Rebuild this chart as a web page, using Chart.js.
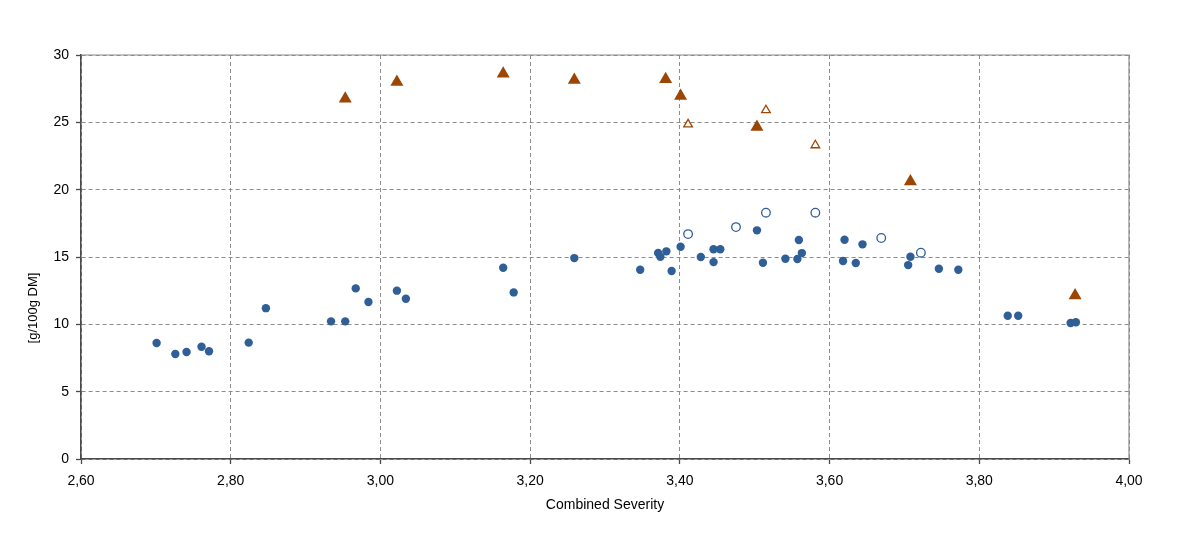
<!DOCTYPE html>
<html>
<head>
<meta charset="utf-8">
<script src="https://cdn.jsdelivr.net/npm/chart.js@4/dist/chart.umd.min.js"></script>
<style>
    html, body { margin: 0; padding: 0; background: #fff; }
    #chart { display: block; }
</style>
</head>
<body>
<canvas id="chart" width="1200" height="555"></canvas>
<script>
// ===================== DATA =====================
const xTicks = [2.6, 2.8, 3.0, 3.2, 3.4, 3.6, 3.8, 4.0];
const yTicks = [0, 5, 10, 15, 20, 25, 30];

// filled circles
const dotX = [2.701, 2.726, 2.741, 2.761, 2.771, 2.824, 2.847, 2.934, 2.953, 2.967, 2.984, 3.022,
    3.034, 3.164, 3.178, 3.259, 3.347, 3.371, 3.374, 3.382, 3.389, 3.401, 3.428, 3.445, 3.454,
    3.445, 3.503, 3.511, 3.541, 3.557, 3.559, 3.563, 3.618, 3.620, 3.635, 3.644, 3.705, 3.708,
    3.746, 3.772, 3.838, 3.852, 3.922, 3.929];
const dotY = [8.61, 7.80, 7.94, 8.34, 8.00, 8.64, 11.20, 10.22, 10.22, 12.67, 11.66, 12.50,
    11.90, 14.20, 12.37, 14.92, 14.05, 15.30, 15.02, 15.42, 13.96, 15.76, 15.00, 15.57, 15.57,
    14.62, 16.98, 14.57, 14.87, 14.85, 16.26, 15.29, 14.70, 16.28, 14.55, 15.94, 14.40, 15.02,
    14.13, 14.05, 10.64, 10.64, 10.10, 10.15];

// open circles
const ringX = [3.411, 3.475, 3.515, 3.581, 3.669, 3.722];
const ringY = [16.70, 17.22, 18.29, 18.29, 16.41, 15.32];

// filled triangles
const triX = [2.953, 3.022, 3.164, 3.259, 3.381, 3.401, 3.503, 3.708, 3.928];
const triY = [26.75, 28.00, 28.60, 28.15, 28.20, 26.95, 24.65, 20.60, 12.15];

// open triangles
const openTriX = [3.411, 3.515, 3.581];
const openTriY = [24.85, 25.90, 23.30];

const BLUE = '#2f5f96';
const BROWN = '#9c4605';
const GRID = '#8c8c8c';
const AXIS = '#4a4a4a';
const FONT = 'Arial, "Liberation Sans", sans-serif';

function pts(xs, ys) {
    return xs.map((x, i) => ({ x: x, y: ys[i] }));
}

// frame on top / right + rotated y title, placed like the original
const framePlugin = {
    id: 'frame',
    afterDraw(chart) {
        const { ctx, chartArea: a } = chart;
        ctx.save();
        ctx.strokeStyle = GRID;
        ctx.lineWidth = 1.2;
        ctx.beginPath();
        ctx.moveTo(a.left, a.top);
        ctx.lineTo(a.right, a.top);
        ctx.lineTo(a.right, a.bottom);
        ctx.stroke();

        ctx.translate(33, 308);
        ctx.rotate(-Math.PI / 2);
        ctx.fillStyle = '#000';
        ctx.font = '13px ' + FONT;
        ctx.textAlign = 'center';
        ctx.textBaseline = 'middle';
        ctx.fillText('[g/100g DM]', 0, 0);
        ctx.restore();
    }
};

const ctx = document.getElementById('chart').getContext('2d');
new Chart(ctx, {
    type: 'scatter',
    data: {
        datasets: [
            {
                data: pts(dotX, dotY),
                pointStyle: 'circle',
                pointRadius: 4.2,
                backgroundColor: BLUE,
                borderColor: BLUE,
                borderWidth: 0
            },
            {
                data: pts(ringX, ringY),
                pointStyle: 'circle',
                pointRadius: 4.3,
                backgroundColor: '#fff',
                borderColor: BLUE,
                borderWidth: 1.3
            },
            {
                data: pts(triX, triY),
                pointStyle: 'triangle',
                pointRadius: 7.5,
                backgroundColor: BROWN,
                borderColor: BROWN,
                borderWidth: 0
            },
            {
                data: pts(openTriX, openTriY),
                pointStyle: 'triangle',
                pointRadius: 5,
                backgroundColor: '#fff',
                borderColor: BROWN,
                borderWidth: 1.3
            }
        ]
    },
    options: {
        responsive: false,
        animation: false,
        layout: { padding: { left: 0, top: 55, right: 71, bottom: 0 } },
        plugins: {
            legend: { display: false },
            tooltip: { enabled: false }
        },
        scales: {
            x: {
                type: 'linear',
                min: 2.6,
                max: 4.0,
                afterBuildTicks: scale => { scale.ticks = xTicks.map(v => ({ value: v })); },
                afterFit: scale => { scale.height = 96; },
                grid: {
                    color: GRID,
                    lineWidth: 1,
                    tickLength: 5,
                    tickColor: AXIS,
                    tickWidth: 1.3,
                    tickBorderDash: []
                },
                border: { color: AXIS, width: 1.6, dash: [4, 3] },
                ticks: {
                    color: '#000',
                    padding: 9,
                    font: { size: 14, family: FONT },
                    maxRotation: 0,
                    callback: v => v.toFixed(2).replace('.', ',')
                },
                title: {
                    display: true,
                    text: 'Combined Severity',
                    color: '#000',
                    font: { size: 14, family: FONT },
                    padding: { top: 0, bottom: 41 }
                }
            },
            y: {
                type: 'linear',
                min: 0,
                max: 30,
                afterBuildTicks: scale => { scale.ticks = yTicks.map(v => ({ value: v })); },
                afterFit: scale => { scale.width = 81; },
                grid: {
                    color: GRID,
                    lineWidth: 1,
                    tickLength: 5,
                    tickColor: AXIS,
                    tickWidth: 1.3,
                    tickBorderDash: []
                },
                border: { color: AXIS, width: 1.6, dash: [4, 3] },
                ticks: {
                    color: '#000',
                    padding: 7,
                    font: { size: 14, family: FONT }
                }
            }
        }
    },
    plugins: [framePlugin]
});
</script>
</body>
</html>
